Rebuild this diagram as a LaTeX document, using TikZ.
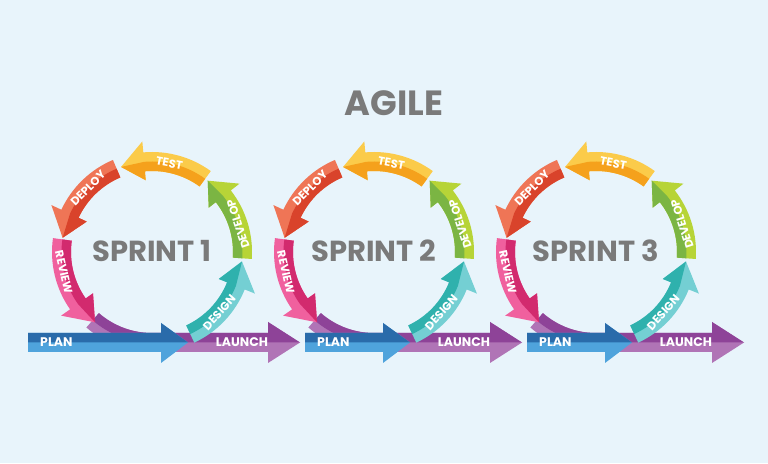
\documentclass[tikz,border=0pt]{standalone}
\usepackage{fontspec}
\setmainfont{Poppins}
\usepackage{tikz}
\definecolor{bg}{HTML}{E8F4FB}
\definecolor{title}{HTML}{7A7A7A}
\definecolor{testL}{HTML}{FBCB4A}
\definecolor{testD}{HTML}{F5A11C}
\definecolor{deployL}{HTML}{EF7556}
\definecolor{deployD}{HTML}{D9432B}
\definecolor{reviewL}{HTML}{F0609E}
\definecolor{reviewD}{HTML}{D22A6E}
\definecolor{launchL}{HTML}{B074B6}
\definecolor{launchD}{HTML}{8E4398}
\definecolor{planL}{HTML}{4FA3DC}
\definecolor{planD}{HTML}{2A6BAA}
\definecolor{designL}{HTML}{74CFD3}
\definecolor{designD}{HTML}{2FB1AD}
\definecolor{developL}{HTML}{B7D437}
\definecolor{developD}{HTML}{7BB543}
\tikzset{lab/.style={text=white,font=\bfseries\fontsize{11.5}{11.5}\selectfont,inner sep=0pt},
  biglab/.style={text=white,font=\bfseries\fontsize{12.5}{12.5}\selectfont,inner sep=0pt},
  sprint/.style={text=title,font=\bfseries\fontsize{29}{29}\selectfont,inner sep=0pt},
  agile/.style={text=title,font=\bfseries\fontsize{35}{35}\selectfont,inner sep=0pt}}
% curved arrow on the ring: tail angle, head base angle, tip angle, light, dark
\newcommand\ringarrow[5]{%
  \fill[#4] (#1:100) arc[start angle=#1,end angle=#2,radius=100] -- (#2:111)
    -- (#3:90.5) -- (#2:72) -- (#2:81) arc[start angle=#2,end angle=#1,radius=81] -- cycle;
  \fill[#5] (#1:81) -- (#1:90.5) arc[start angle=#1,end angle=#2,radius=90.5]
    -- (#3:90.5) -- (#2:72) -- (#2:81) arc[start angle=#2,end angle=#1,radius=81] -- cycle;
}
\begin{document}
\begin{tikzpicture}[x=1pt,y=1pt]
\fill[bg] (0,0) rectangle (768,463);
\node[agile] (agile) at (394,360) {AGILE};

% One ring per sprint; \ps is where the plan arrow starts.
\foreach \cx/\n/\ps in {152/1/-124,374/2/-69,596/3/-69}{
\begin{scope}[shift={(\cx,211)}]
  % Launch: bottom of the ring, then straight on.
  \fill[launchL] (229:100) arc[start angle=229,end angle=270,radius=100] -- (116,-100)
    -- (116,-111) -- (148,-90.5) -- (116,-70) -- (116,-81) -- (0,-81)
    arc[start angle=270,end angle=229,radius=81] -- cycle;
  \fill[launchD] (229:81) -- (229:90.5) arc[start angle=229,end angle=270,radius=90.5]
    -- (148,-90.5) -- (116,-70) -- (116,-81) -- (0,-81)
    arc[start angle=270,end angle=229,radius=81] -- cycle;
  % Plan.
  \fill[planL] (\ps,-81) -- (9,-81) -- (9,-71) -- (36,-90.5) -- (9,-111) -- (9,-100)
    -- (\ps,-100) -- cycle;
  \fill[planD] (\ps,-81) -- (9,-81) -- (9,-71) -- (36,-90.5) -- (\ps,-90.5) -- cycle;
  % The cycle itself.
  \ringarrow{-65}{-22}{-6}{designL}{designD}
  \ringarrow{-4}{38}{52}{developL}{developD}
  \ringarrow{54}{95}{110}{testL}{testD}
  \ringarrow{113}{155}{171}{deployL}{deployD}
  \ringarrow{172}{215}{231}{reviewL}{reviewD}

  \node[sprint] (sprint\n) at (0,1) {SPRINT \n};
  \node[lab,rotate=-11] (test\n) at (79:90.5) {TEST};
  \node[lab,rotate=45] (deploy\n) at (135:90.5) {DEPLOY};
  \node[lab,rotate=-77] (review\n) at (193:90.5) {REVIEW};
  \node[lab,rotate=48] (design\n) at (-42:90.5) {DESIGN};
  \node[lab,rotate=108] (develop\n) at (18:90.5) {DEVELOP};
  \node[biglab,anchor=west] (plan\n) at (\ps+12,-90.5) {PLAN};
  \node[biglab] (launch\n) at (90,-90.5) {LAUNCH};
\end{scope}
}
\end{tikzpicture}
\end{document}
